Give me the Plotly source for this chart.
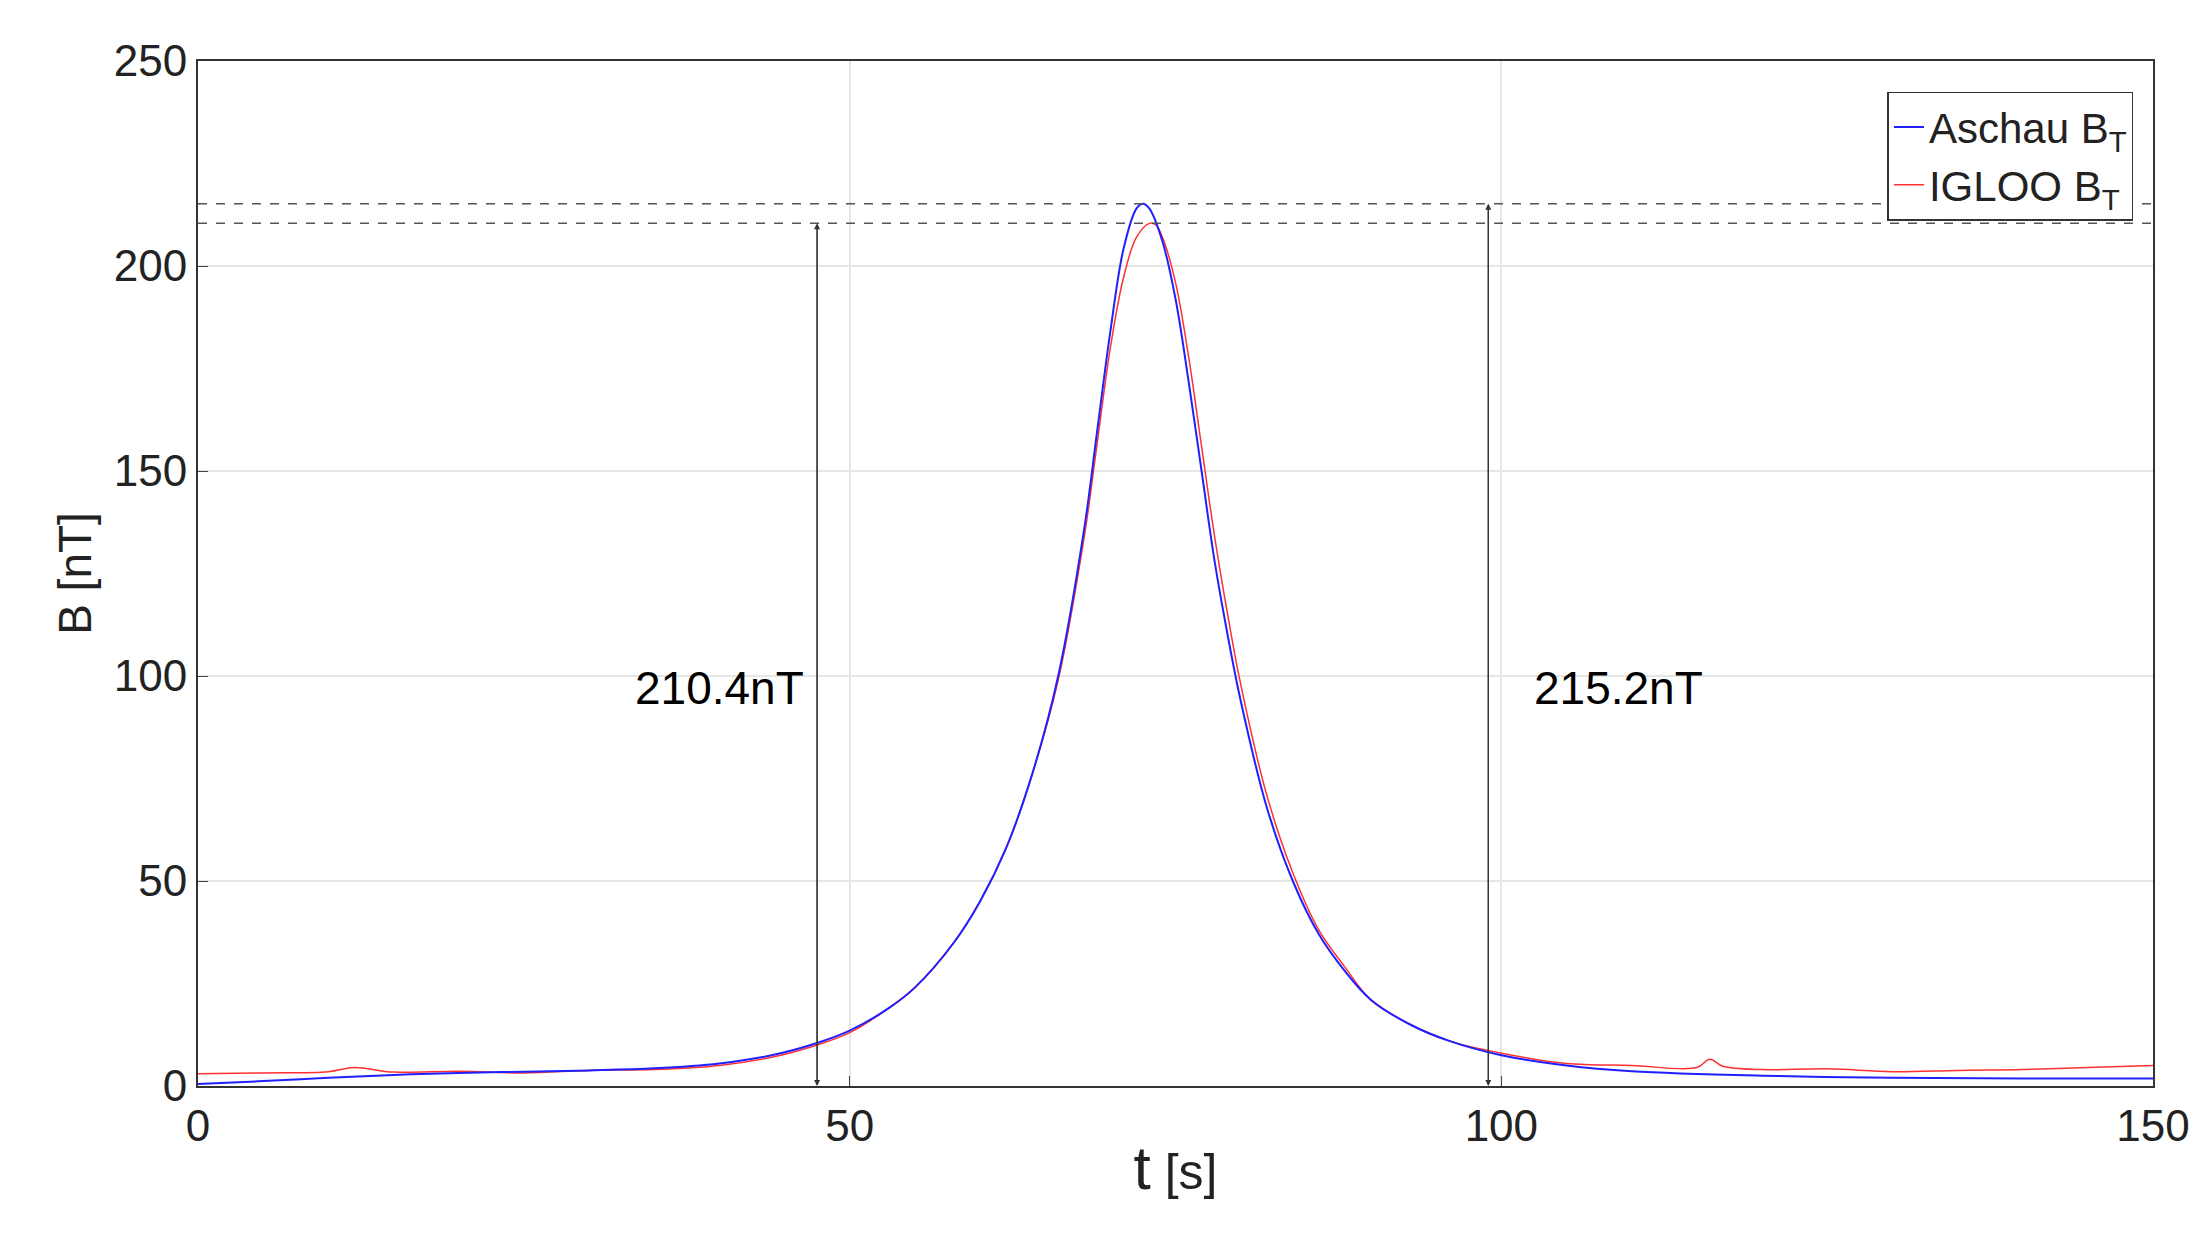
import plotly.graph_objects as go

t_a = [0, 5, 10, 15, 20, 25, 30, 35, 40, 44, 47.5, 50, 53, 55, 58, 60, 62, 64, 66, 68, 69, 70, 71, 72, 72.5, 73, 74, 75, 76, 77, 78, 79, 80, 82, 84, 86, 88, 90, 93, 96, 100, 105, 110, 120, 130, 140, 150]
b_a = [0.5, 1.2, 2.0, 2.7, 3.2, 3.5, 3.8, 4.3, 5.5, 7.5, 10.5, 13.5, 19, 24, 35, 45, 58, 76, 100, 136, 160, 184, 204, 214, 215.2, 214, 206, 192, 172, 150, 128, 110, 94, 68, 50, 37, 28, 21, 15, 11, 7.5, 5, 3.6, 2.5, 2.0, 1.8, 1.8]
t_i = [0, 5, 10, 12, 15, 20, 25, 30, 35, 40, 44, 47.5, 50, 53, 55, 58, 60, 62, 64, 66, 68, 69, 70, 71, 72, 73, 73.5, 74, 75, 76, 77, 78, 79, 80, 82, 84, 86, 88, 90, 93, 96, 100, 105, 110, 115, 116, 117, 120, 125, 130, 135, 140, 145, 150]
b_i = [3.0, 3.2, 3.5, 4.5, 3.4, 3.6, 3.2, 3.8, 4.0, 5.0, 7.0, 10.0, 13.0, 19, 24, 35, 45, 58, 76, 99, 134, 157, 180, 197, 207, 210.4, 210, 207, 196, 178, 156, 134, 115, 98, 71, 52, 38, 29, 21, 15, 11, 8, 5.5, 5.0, 4.5, 6.5, 4.8, 4.0, 4.2, 3.5, 3.8, 4.0, 4.5, 5.0]

fig = go.Figure()
for y in [210.4, 215.2]:
    fig.add_shape(type="line", x0=0, x1=150, y0=y, y1=y, line=dict(color="#555", width=1.5, dash="dash"))
fig.add_trace(go.Scatter(x=t_i, y=b_i, mode="lines", line=dict(color="#ff3030", width=1.5, shape="spline"), name="IGLOO B<sub>T</sub>"))
fig.add_trace(go.Scatter(x=t_a, y=b_a, mode="lines", line=dict(color="#2020ff", width=2, shape="spline"), name="Aschau B<sub>T</sub>"))
for x, y, tx in [(47.5, 210.4, 40), (99, 215.2, 109)]:
    for (yh, yt) in [(y, 0), (0, y)]:
        fig.add_annotation(x=x, y=yh, ax=x, ay=yt, xref="x", yref="y", axref="x", ayref="y",
                           showarrow=True, arrowhead=2, arrowsize=1, arrowwidth=1.2, arrowcolor="#333", text="")
    fig.add_annotation(x=tx, y=97, text=f"{y}nT", showarrow=False, font=dict(size=46, color="black"))

fig.update_layout(
    width=2201, height=1251, plot_bgcolor="white", paper_bgcolor="white",
    margin=dict(l=190, r=56, t=53, b=173),
    font=dict(family="Liberation Sans, Arial", size=44, color="#222"),
    legend=dict(x=0.99, y=0.97, xanchor="right", yanchor="top", bordercolor="#333", borderwidth=1.5,
                traceorder="reversed", font=dict(size=42), tracegroupgap=20),
)
fig.update_xaxes(range=[0, 150], tickvals=[0, 50, 100, 150], showgrid=True, gridcolor="#e6e6e6", gridwidth=1.5,
                 showline=True, linecolor="#333", linewidth=2, mirror=True, ticks="inside", ticklen=10, zeroline=False,
                 title=dict(text="<span style='font-size:62px'>t</span> [s]", font=dict(size=50), standoff=5))
fig.update_yaxes(range=[0, 250], tickvals=[0, 50, 100, 150, 200, 250], showgrid=True, gridcolor="#e6e6e6", gridwidth=1.5,
                 showline=True, linecolor="#333", linewidth=2, mirror=True, ticks="inside", ticklen=10, zeroline=False,
                 title=dict(text="B [nT]", font=dict(size=46), standoff=8))
fig.write_html("out.html")
